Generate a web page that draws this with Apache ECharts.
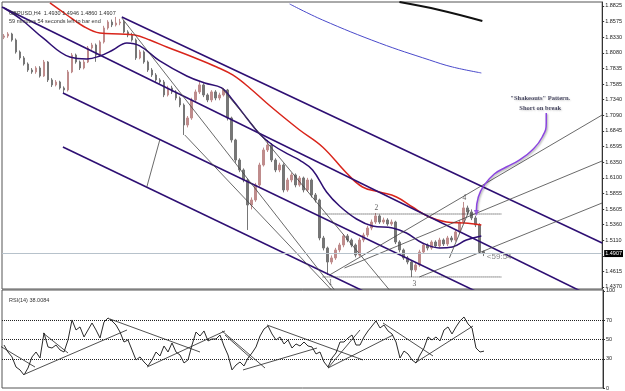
<!DOCTYPE html>
<html>
<head>
<meta charset="utf-8">
<script src="https://cdn.jsdelivr.net/npm/echarts/dist/echarts.min.js"></script>
<style>
  html, body { margin: 0; padding: 0; background: #fff; }
  #chart { width: 625px; height: 391px; }
</style>
</head>
<body>
<div id="chart"></div>
<script>
// GBPUSD H4 bars (index = bar number)
const opens = [
  1.8330, 1.8349, 1.8381, 1.8286, 1.8096, 1.8001, 1.7905, 1.7810, 1.7779, 1.7842,
  1.7715, 1.7937, 1.7652, 1.7573, 1.7620, 1.7525, 1.7493, 1.7779, 1.8048, 1.7937,
  1.7842, 1.7937, 1.8159, 1.8207, 1.8048, 1.8254, 1.8476, 1.8571, 1.8524, 1.8555,
  1.8571, 1.8413, 1.8365, 1.8286, 1.8001, 1.8096, 1.7937, 1.7810, 1.7731, 1.7652,
  1.7620, 1.7414, 1.7525, 1.7462, 1.7366, 1.7255, 1.6938, 1.7049, 1.7335, 1.7462,
  1.7573, 1.7414, 1.7335, 1.7462, 1.7366, 1.7414, 1.7493, 1.7049, 1.6701, 1.6383,
  1.6225, 1.6066, 1.5670, 1.5749, 1.5987, 1.6304, 1.6542, 1.6621, 1.6383, 1.6225,
  1.6304, 1.5908, 1.6066, 1.6146, 1.5987, 1.6098, 1.5908, 1.6066, 1.5829, 1.5749,
  1.5147, 1.4988, 1.4766, 1.4830, 1.4957, 1.5036, 1.5179, 1.5115, 1.5036, 1.4877,
  1.5115, 1.5194, 1.5305, 1.5400, 1.5496, 1.5400, 1.5432, 1.5369, 1.5400, 1.5083,
  1.4957, 1.4830, 1.4766, 1.4640, 1.4719, 1.4925, 1.5036, 1.4988, 1.5083, 1.5020,
  1.5115, 1.5052, 1.5147, 1.5115, 1.5242, 1.5400, 1.5623, 1.5559, 1.5464, 1.5353,
  1.4930
]
const closes = [
  1.8349, 1.8381, 1.8286, 1.8096, 1.8001, 1.7905, 1.7810, 1.7779, 1.7842, 1.7715,
  1.7937, 1.7652, 1.7573, 1.7620, 1.7525, 1.7493, 1.7779, 1.8048, 1.7937, 1.7842,
  1.7937, 1.8159, 1.8207, 1.8048, 1.8254, 1.8476, 1.8571, 1.8524, 1.8555, 1.8571,
  1.8413, 1.8365, 1.8286, 1.8001, 1.8096, 1.7937, 1.7810, 1.7731, 1.7652, 1.7620,
  1.7414, 1.7525, 1.7462, 1.7366, 1.7255, 1.6938, 1.7049, 1.7335, 1.7462, 1.7573,
  1.7414, 1.7335, 1.7462, 1.7366, 1.7414, 1.7493, 1.7049, 1.6701, 1.6383, 1.6225,
  1.6066, 1.5670, 1.5749, 1.5987, 1.6304, 1.6542, 1.6621, 1.6383, 1.6225, 1.6304,
  1.5908, 1.6066, 1.6146, 1.5987, 1.6098, 1.5908, 1.6066, 1.5829, 1.5749, 1.5147,
  1.4988, 1.4766, 1.4830, 1.4957, 1.5036, 1.5179, 1.5115, 1.5036, 1.4877, 1.5115,
  1.5194, 1.5305, 1.5400, 1.5496, 1.5400, 1.5432, 1.5369, 1.5400, 1.5083, 1.4957,
  1.4830, 1.4766, 1.4640, 1.4719, 1.4925, 1.5036, 1.4988, 1.5083, 1.5020, 1.5115,
  1.5052, 1.5147, 1.5115, 1.5242, 1.5400, 1.5623, 1.5559, 1.5464, 1.5353, 1.4930,
  1.4907
]
const lows = [
  1.8300, 1.8320, 1.8260, 1.8070, 1.7970, 1.7880, 1.7780, 1.7750, 1.7750, 1.7690,
  1.7700, 1.7620, 1.7540, 1.7550, 1.7500, 1.7440, 1.7470, 1.7760, 1.7910, 1.7810,
  1.7820, 1.7920, 1.8130, 1.7940, 1.8020, 1.8230, 1.8450, 1.8490, 1.8500, 1.8520,
  1.8390, 1.8330, 1.8260, 1.7970, 1.7980, 1.7910, 1.7780, 1.7700, 1.7620, 1.7590,
  1.7380, 1.7390, 1.7430, 1.7330, 1.7220, 1.6780, 1.6900, 1.7020, 1.7300, 1.7430,
  1.7380, 1.7300, 1.7300, 1.7330, 1.7330, 1.7390, 1.7010, 1.6660, 1.6340, 1.6190,
  1.6030, 1.5274, 1.5600, 1.5720, 1.5960, 1.6280, 1.6510, 1.6350, 1.6190, 1.6190,
  1.5870, 1.5880, 1.6030, 1.5950, 1.5960, 1.5870, 1.5880, 1.5790, 1.5710, 1.5110,
  1.4950, 1.4560, 1.4730, 1.4800, 1.4920, 1.5000, 1.5080, 1.5000, 1.4840, 1.4850,
  1.5080, 1.5160, 1.5270, 1.5370, 1.5370, 1.5370, 1.5340, 1.5340, 1.5050, 1.4920,
  1.4800, 1.4730, 1.4529, 1.4610, 1.4690, 1.4900, 1.4950, 1.4960, 1.4990, 1.4990,
  1.5020, 1.5020, 1.5080, 1.5090, 1.5220, 1.5380, 1.5520, 1.5430, 1.5320, 1.4900,
  1.4860
]
const highs = [
  1.8380, 1.8410, 1.8400, 1.8310, 1.8120, 1.8030, 1.7930, 1.7840, 1.7870, 1.7870,
  1.7969, 1.7950, 1.7680, 1.7650, 1.7640, 1.7550, 1.7810, 1.8080, 1.8070, 1.7960,
  1.7970, 1.8190, 1.8240, 1.8230, 1.8280, 1.8510, 1.8600, 1.8610, 1.8651, 1.8620,
  1.8600, 1.8440, 1.8400, 1.8310, 1.8130, 1.8120, 1.7960, 1.7840, 1.7760, 1.7680,
  1.7650, 1.7560, 1.7560, 1.7490, 1.7390, 1.7280, 1.7080, 1.7370, 1.7500, 1.7620,
  1.7600, 1.7440, 1.7490, 1.7490, 1.7450, 1.7525, 1.7510, 1.7070, 1.6720, 1.6410,
  1.6250, 1.6090, 1.5790, 1.6020, 1.6340, 1.6580, 1.6701, 1.6650, 1.6410, 1.6340,
  1.6330, 1.6100, 1.6180, 1.6170, 1.6130, 1.6120, 1.6100, 1.6090, 1.5860, 1.5770,
  1.5180, 1.5010, 1.4870, 1.4990, 1.5070, 1.5210, 1.5210, 1.5140, 1.5060, 1.5150,
  1.5230, 1.5340, 1.5440, 1.5543, 1.5520, 1.5470, 1.5460, 1.5440, 1.5420, 1.5110,
  1.4980, 1.4860, 1.4790, 1.4750, 1.4960, 1.5070, 1.5060, 1.5110, 1.5110, 1.5150,
  1.5140, 1.5180, 1.5180, 1.5270, 1.5430, 1.5718, 1.5660, 1.5600, 1.5500, 1.5380,
  1.4946
]
const rsiValues = [
  44.3, 37.1, 32.0, 21.6, 18.6, 13.4, 20.6, 32.0, 37.1, 30.9,
  56.7, 42.3, 41.2, 44.3, 39.2, 37.1, 49.5, 70.1, 59.8, 62.9,
  52.6, 59.8, 67.0, 59.8, 51.5, 68.0, 72.2, 69.1, 64.9, 57.7,
  47.4, 49.5, 39.2, 28.9, 32.0, 26.8, 22.7, 28.9, 37.1, 33.0,
  43.3, 37.1, 46.4, 37.1, 34.0, 25.8, 28.9, 44.3, 57.7, 53.6,
  58.8, 48.5, 50.5, 50.5, 54.6, 43.3, 34.0, 18.6, 23.7, 26.8,
  22.7, 30.9, 36.1, 42.3, 53.6, 60.8, 63.9, 55.7, 49.5, 52.6,
  45.4, 49.5, 41.2, 45.4, 43.3, 47.4, 43.3, 42.3, 35.1, 37.1,
  26.8, 21.6, 30.9, 36.1, 47.4, 47.4, 51.5, 54.6, 44.3, 44.3,
  52.6, 58.8, 63.9, 69.1, 61.9, 64.9, 58.8, 55.7, 47.4, 30.9,
  38.1, 35.1, 28.9, 25.8, 34.0, 41.2, 52.6, 49.5, 52.6, 48.5,
  59.8, 62.9, 55.7, 62.9, 69.1, 73.2, 66.0, 61.9, 41.2, 37.1,
  38.0084
]

// moving averages, [bar, price] read at a few places
const maRed = [[11.5, 1.8873], [15.75, 1.8682], [19.75, 1.8508], [24, 1.8397], [29, 1.8381], [32.75, 1.8365], [36.5, 1.8286], [40.75, 1.8175], [47.25, 1.8016], [53.25, 1.7858], [57.25, 1.7731], [61.5, 1.7525], [65.75, 1.7287], [70.25, 1.7049], [74, 1.6859], [79.75, 1.6590], [85.75, 1.6177], [89.75, 1.5955], [94, 1.5876], [98.25, 1.5797], [102.25, 1.5638], [106.5, 1.5480], [110.75, 1.5400], [115.25, 1.5385], [119.5, 1.5353]]
const maPurple = [[0, 1.8793], [4.5, 1.8603], [9.75, 1.8318], [16.5, 1.8016], [20.75, 1.7985], [24, 1.8032], [27.25, 1.8127], [30.75, 1.8238], [34, 1.8191], [39, 1.7953], [45.75, 1.7715], [50.25, 1.7604], [54.5, 1.7525], [57.25, 1.7335], [60.75, 1.7049], [64, 1.6796], [67.25, 1.6621], [71.5, 1.6463], [74, 1.6383], [77.25, 1.6225], [80.75, 1.5876], [84, 1.5654], [88.25, 1.5448], [92.25, 1.5337], [97.25, 1.5305], [100.75, 1.5226], [104.75, 1.5068], [109, 1.4988], [112.25, 1.5004], [115.75, 1.5115], [119.5, 1.5179]]
const maBlue = [[71.5, 1.8857], [79.75, 1.8603], [94, 1.8238], [106.5, 1.7969], [112.25, 1.7858], [119.5, 1.7763]]
const maBlack = [[99, 1.8888], [109, 1.8762], [119.75, 1.8587]]

// drawn objects
const channelLines = [
  [[29.5, 1.8651], [149.75, 1.5068]],
  [[-0.5, 1.8809], [146.5, 1.4238]],
  [[14.75, 1.7446], [119, 1.4275]],
  [[14.75, 1.6590], [91.5, 1.4259]]
]
const thinLines = [
  [[29.5, 1.8635], [82.75, 1.4322]],
  [[45.25, 1.6780], [82, 1.4322]],
  [[54.5, 1.7525], [96.5, 1.4322]],
  [[35.75, 1.5955], [39, 1.6701]],
  [[81.5, 1.4560], [149.75, 1.7097]],
  [[85.25, 1.4671], [149.75, 1.6368]],
  [[104, 1.4529], [149.75, 1.5702]],
  [[111.5, 1.4830], [116.5, 1.5591]]
]
const dottedLines = [
  [[79.75, 1.5527], [124.5, 1.5527]],
  [[79.75, 1.4529], [124.5, 1.4529]]
]
const rsiLines = [
  [[-1, 43.3], [7.75, 21.6]],
  [[5.25, 14.4], [30.75, 59.8]],
  [[9.75, 56.7], [16, 36.1]],
  [[26.5, 71.1], [49, 37.1]],
  [[35.75, 21.6], [55.25, 58.8]],
  [[54.5, 58.8], [65.25, 20.6]],
  [[55.25, 54.6], [62.25, 28.9]],
  [[59.75, 18.6], [78.25, 41.2]],
  [[65.75, 64.9], [89.75, 28.9]],
  [[81, 20.6], [89, 59.8]],
  [[81, 20.6], [97.25, 54.6]],
  [[94.75, 67.0], [107.25, 33.0]],
  [[102.75, 25.8], [117.25, 63.9]]
]
const arrowPath = [[135.75, 1.7129], [135.75, 1.6970], [134.75, 1.6748], [132.25, 1.6542], [129, 1.6383], [125.75, 1.6272], [122.75, 1.6161], [120.25, 1.5987], [118.75, 1.5797], [118.25, 1.5575]]
const arrowTip = [118.25, 1.5543]

const waveNames = ["1", "2", "3", "4"]
const waveX = [81.75, 93.25, 102.75, 115.25]
const waveY = [1.4433, 1.5622, 1.4418, 1.5781]

const priceTicks = [1.4370, 1.4615, 1.4865, 1.5110, 1.5360, 1.5605, 1.5855, 1.6100, 1.6350, 1.6595, 1.6845, 1.7090, 1.7340, 1.7585, 1.7835, 1.8080, 1.8330, 1.8575, 1.8825]
const rsiTicks = [0, 30, 50, 70, 100]
const rsiLevels = [70, 50, 30]

const last = closes.length - 1
const bidPrice = closes[last]

const chart = echarts.init(document.getElementById("chart"))

const segment = (pts, color, width, type, idx) => ({
  type: "line",
  xAxisIndex: idx,
  yAxisIndex: idx,
  data: pts,
  symbol: "none",
  silent: true,
  z: 4,
  lineStyle: { color, width, type: type || "solid" }
})

const curve = (pts, color, width) => ({
  type: "line",
  data: pts,
  smooth: 0.4,
  symbol: "none",
  silent: true,
  z: 3,
  lineStyle: { color, width }
})

const axisFont = { fontSize: 5.5, color: "#222", fontFamily: "Liberation Sans" }

chart.setOption({
  animation: false,
  backgroundColor: "#fff",
  title: [
    {
      text: `GBPUSD,H4  ${opens[last].toFixed(4)} ${highs[last].toFixed(4)} ${lows[last].toFixed(4)} ${closes[last].toFixed(4)}\n59 minutes 54 seconds left to bar end`,
      left: 4,
      top: 4,
      textStyle: { fontSize: 5.5, fontWeight: "normal", color: "#333", lineHeight: 8, fontFamily: "Liberation Sans" }
    },
    {
      text: `RSI(14) ${rsiValues[last].toFixed(4)}`,
      left: 4,
      top: 292,
      textStyle: { fontSize: 5.5, fontWeight: "normal", color: "#333", fontFamily: "Liberation Sans" }
    }
  ],
  grid: [
    { left: 2, right: 22, top: 2, height: 287, show: true, borderColor: "#555", borderWidth: 1 },
    { left: 2, right: 22, top: 290, height: 98, show: true, borderColor: "#555", borderWidth: 1 }
  ],
  xAxis: [
    { type: "value", gridIndex: 0, min: -0.5, max: 149.75, show: false },
    { type: "value", gridIndex: 1, min: -0.5, max: 149.75, show: false }
  ],
  yAxis: [
    {
      type: "value",
      gridIndex: 0,
      position: "right",
      min: 1.4338,
      max: 1.8888,
      axisLine: { show: true, onZero: false, lineStyle: { color: "#333" } },
      axisTick: { show: true, length: 2, customValues: priceTicks, lineStyle: { color: "#333" } },
      axisLabel: { ...axisFont, margin: 3, customValues: priceTicks, formatter: v => v.toFixed(4) },
      splitLine: { show: false }
    },
    {
      type: "value",
      gridIndex: 1,
      position: "right",
      min: 0,
      max: 101,
      axisLine: { show: true, onZero: false, lineStyle: { color: "#333" } },
      axisTick: { show: true, length: 2, customValues: rsiTicks, lineStyle: { color: "#333" } },
      axisLabel: { ...axisFont, margin: 3, customValues: rsiTicks },
      splitLine: { show: false }
    }
  ],
  series: [
    {
      type: "candlestick",
      xAxisIndex: 0,
      yAxisIndex: 0,
      barWidth: 2,
      encode: { x: 0, y: [1, 2, 3, 4] },
      data: closes.map((c, i) => [i, opens[i], c, lows[i], highs[i]]),
      itemStyle: {
        color: "#bf8c8c",
        borderColor: "#bf8c8c",
        color0: "#767676",
        borderColor0: "#767676",
        borderWidth: 1
      },
      markLine: {
        symbol: "none",
        silent: true,
        lineStyle: { color: "#b7c2cb", width: 1, type: "solid" },
        label: {
          position: "end",
          distance: 2,
          formatter: bidPrice.toFixed(4),
          backgroundColor: "#000",
          color: "#fff",
          fontSize: 5.5,
          padding: [1, 1, 0, 1],
          fontFamily: "Liberation Sans"
        },
        data: [{ yAxis: bidPrice }]
      },
      z: 2
    },
    curve(maRed, "#d9251b", 1.5),
    curve(maPurple, "#2e0f73", 1.5),
    curve(maBlue, "#4a4acb", 1),
    curve(maBlack, "#111", 2),
    ...channelLines.map(l => segment(l, "#2e0f73", 1.6, "solid", 0)),
    ...thinLines.map(l => segment(l, "#444", 0.8, "solid", 0)),
    ...dottedLines.map(l => segment(l, "#333", 1, "dotted", 0)),
    {
      type: "line",
      data: arrowPath,
      smooth: 0.5,
      symbol: "none",
      silent: true,
      z: 6,
      lineStyle: {
        color: "#8b45e0",
        width: 1.5,
        shadowColor: "rgba(0,0,0,0.35)",
        shadowBlur: 2,
        shadowOffsetX: 1,
        shadowOffsetY: 1
      }
    },
    {
      type: "scatter",
      data: [arrowTip],
      symbol: "triangle",
      symbolRotate: 180,
      symbolSize: [5, 6],
      silent: true,
      z: 6,
      itemStyle: { color: "#8b45e0" }
    },
    {
      type: "scatter",
      symbolSize: 1,
      silent: true,
      z: 7,
      itemStyle: { color: "rgba(0,0,0,0)" },
      label: {
        show: true,
        position: "inside",
        formatter: "{b}",
        fontSize: 7.5,
        color: "#333",
        fontFamily: "Liberation Serif"
      },
      labelLayout: { hideOverlap: false },
      data: waveNames.map((n, i) => ({ name: n, value: [waveX[i], waveY[i]] }))
    },
    {
      type: "scatter",
      symbolSize: 1,
      silent: true,
      z: 7,
      itemStyle: { color: "rgba(0,0,0,0)" },
      label: {
        show: true,
        position: "right",
        distance: 0,
        formatter: "<59:54",
        fontSize: 8,
        color: "#666",
        fontFamily: "Liberation Sans"
      },
      data: [[last + 0.75, 1.4846]]
    },
    {
      type: "scatter",
      symbolSize: 1,
      silent: true,
      z: 7,
      itemStyle: { color: "rgba(0,0,0,0)" },
      label: {
        show: true,
        position: "inside",
        align: "center",
        formatter: "\"Shakeouts\" Pattern.\nShort on break",
        fontSize: 6.5,
        lineHeight: 10,
        fontWeight: "bold",
        color: "#1c1c3c",
        fontFamily: "Liberation Serif",
        textShadowColor: "rgba(0,0,0,0.25)",
        textShadowBlur: 2,
        textShadowOffsetX: 1,
        textShadowOffsetY: 1
      },
      data: [[134.25, 1.7287]]
    },
    {
      type: "line",
      xAxisIndex: 1,
      yAxisIndex: 1,
      data: rsiValues.map((v, i) => [i, v]),
      symbol: "none",
      silent: true,
      lineStyle: { color: "#2a2a2a", width: 1 },
      markLine: {
        symbol: "none",
        silent: true,
        label: { show: false },
        lineStyle: { color: "#222", width: 1, type: "dotted" },
        data: rsiLevels.map(v => ({ yAxis: v }))
      }
    },
    ...rsiLines.map(l => segment(l, "#222", 0.8, "solid", 1))
  ]
})

window.addEventListener("resize", () => chart.resize())
</script>
</body>
</html>
